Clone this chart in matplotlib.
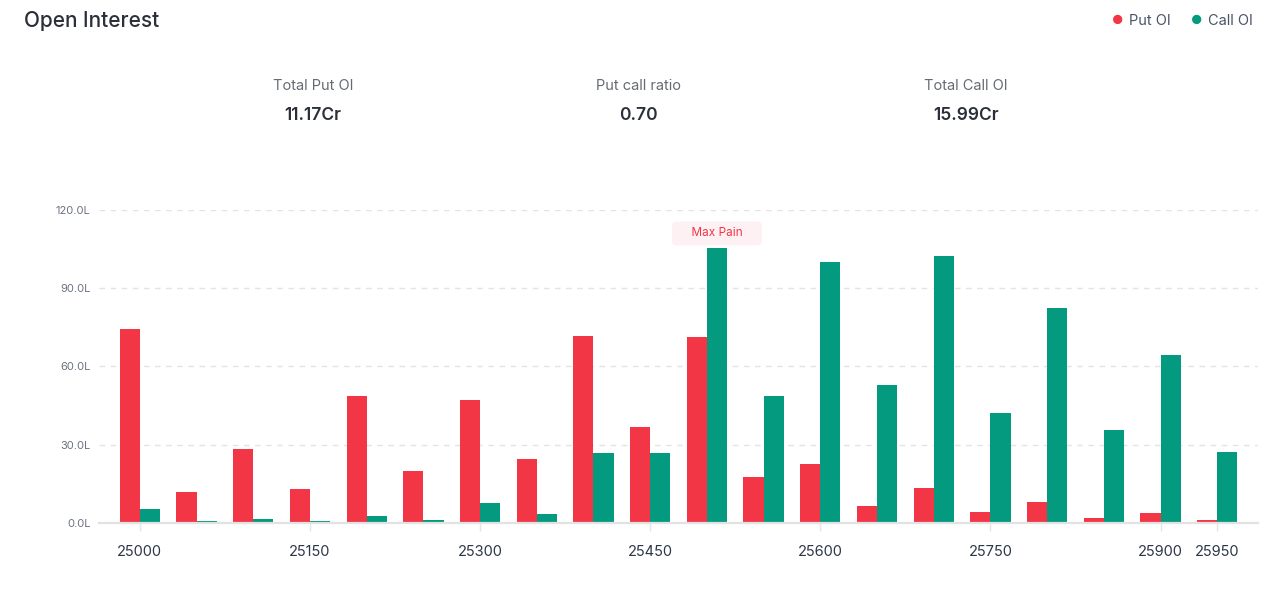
import matplotlib
matplotlib.use("Agg")
import matplotlib.pyplot as plt
import numpy as np

plt.rcParams['font.family'] = ['Inter', 'DejaVu Sans']

# datos (en lakhs)
strikes = [25000, 25050, 25100, 25150, 25200, 25250, 25300, 25350, 25400, 25450,
           25500, 25550, 25600, 25650, 25700, 25750, 25800, 25850, 25900, 25950]
put_oi = [74.4, 11.9, 28.2, 13.2, 48.8, 19.9, 47.0, 24.4, 71.7, 36.7,
          71.3, 17.8, 22.6, 6.7, 13.4, 4.2, 8.0, 1.9, 3.8, 1.2]
call_oi = [5.4, 0.7, 1.6, 0.8, 2.8, 1.3, 7.5, 3.4, 26.9, 26.7,
           105.4, 48.7, 100.2, 52.9, 102.4, 42.2, 82.4, 35.7, 64.4, 27.2]
tick_strikes = [25000, 25150, 25300, 25450, 25600, 25750, 25900, 25950]
y_ticks = [0, 30, 60, 90, 120]
max_pain = 25500
summary_labels = ["Total Put OI", "Put call ratio", "Total Call OI"]
summary_values = ["11.17Cr", "0.70", "15.99Cr"]

RED = "#F23645"
GREEN = "#049A7F"

fig = plt.figure(figsize=(12.78, 5.90), dpi=100)
ax = fig.add_axes([0.0775, 0.1136, 0.9069, 0.5305])

x = np.arange(len(strikes))
w = 0.355
ax.bar(x - w/2, put_oi, width=w, color=RED, zorder=3)
ax.bar(x + w/2, call_oi, width=w, color=GREEN, zorder=3)

ax.set_xlim(-0.72, len(strikes) - 1 + 0.72)
ax.set_ylim(0, 120)

ax.set_yticks(y_ticks)
ax.set_yticklabels([f"{v:.1f}L" for v in y_ticks], fontsize=8, color="#6b7280")
ax.yaxis.grid(True, linestyle=(0, (4, 4)), color="#e3e3e3", linewidth=1, zorder=0)
ax.tick_params(axis="y", length=0, pad=6)

ax.set_xticks([strikes.index(s) for s in tick_strikes])
ax.set_xticklabels([str(s) for s in tick_strikes], fontsize=10.5, color="#2d3748")
ax.tick_params(axis="x", length=6, color="#e5e5e5", width=1, pad=10)

for s in ["top", "right", "left"]:
    ax.spines[s].set_visible(False)
ax.spines["bottom"].set_color("#e2e2e2")
ax.spines["bottom"].set_linewidth(1.6)
ax.spines["bottom"].set_zorder(4)

# etiqueta Max Pain
mp = strikes.index(max_pain)
ax.annotate("    Max Pain    ", (mp + w/2, call_oi[mp]), xytext=(0, 10.5), textcoords="offset points",
            ha="center", va="center", fontsize=8.5, color=RED, zorder=5,
            bbox=dict(boxstyle="round,pad=0.5,rounding_size=0.4", fc="#FEF1F3", ec="none"))

# encabezado
fig.text(24/1278, 1 - 21/590, "Open Interest", fontsize=15, color="#2b2f3a",
         ha="left", va="center", fontweight="medium")

fig.text(1118/1278, 1 - 21/590, "●", fontsize=9, color=RED, ha="center", va="center")
fig.text(1129/1278, 1 - 21/590, "Put OI", fontsize=10.5, color="#4a5568", ha="left", va="center")
fig.text(1197/1278, 1 - 21/590, "●", fontsize=9, color=GREEN, ha="center", va="center")
fig.text(1208/1278, 1 - 21/590, "Call OI", fontsize=10.5, color="#4a5568", ha="left", va="center")

xs = [313, 638, 966]
for xp, lab, val in zip(xs, summary_labels, summary_values):
    fig.text(xp/1278, 1 - 86/590, lab, fontsize=10.5, color="#666b73", ha="center", va="center")
    fig.text(xp/1278, 1 - 116/590, val, fontsize=12.5, color="#2b2f3a", ha="center",
             va="center", fontweight="semibold")

fig.savefig("out.png", dpi=100, facecolor="white")
